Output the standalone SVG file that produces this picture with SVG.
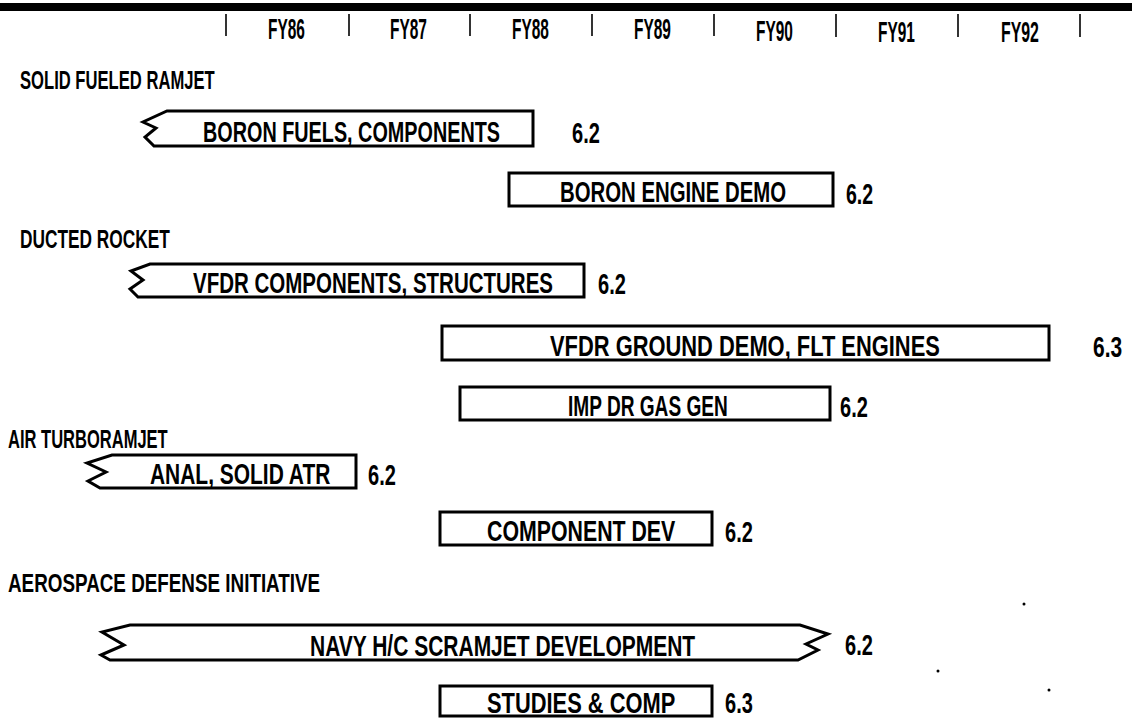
<svg xmlns="http://www.w3.org/2000/svg" width="1132" height="718" viewBox="0 0 1132 718">
<style>
.t{font-family:"Liberation Sans",Arial,sans-serif;font-weight:bold;fill:#000}
.yr{font-size:30px}
.hd{font-size:25px}
.lb{font-size:30px}
.bar{fill:#fff;stroke:#000;stroke-width:3;stroke-linejoin:miter}
.tk{stroke:#000;stroke-width:1.6}
</style>
<rect width="1132" height="718" fill="#fff"/>
<g id="header">
<rect x="0" y="3" width="1132" height="8" fill="#000"/>
<g class="tk">
<line x1="226" y1="14" x2="226" y2="36"/><line x1="349" y1="14" x2="349" y2="36"/><line x1="470" y1="14" x2="470" y2="36"/><line x1="592" y1="14" x2="592" y2="36"/><line x1="714" y1="14" x2="714" y2="36"/><line x1="836" y1="14" x2="836" y2="37"/><line x1="958" y1="14" x2="958" y2="37"/><line x1="1080" y1="14" x2="1080" y2="37"/>
</g>
<text class="t yr" transform="translate(268,39) scale(0.52,1)" textLength="71" lengthAdjust="spacingAndGlyphs">FY86</text>
<text class="t yr" transform="translate(390,39) scale(0.52,1)" textLength="71" lengthAdjust="spacingAndGlyphs">FY87</text>
<text class="t yr" transform="translate(512,39) scale(0.52,1)" textLength="71" lengthAdjust="spacingAndGlyphs">FY88</text>
<text class="t yr" transform="translate(634,39) scale(0.52,1)" textLength="71" lengthAdjust="spacingAndGlyphs">FY89</text>
<text class="t yr" transform="translate(756,41) scale(0.52,1)" textLength="71" lengthAdjust="spacingAndGlyphs">FY90</text>
<text class="t yr" transform="translate(878,42) scale(0.52,1)" textLength="71" lengthAdjust="spacingAndGlyphs">FY91</text>
<text class="t yr" transform="translate(1001,42) scale(0.52,1)" textLength="73" lengthAdjust="spacingAndGlyphs">FY92</text>
</g>
<g id="sec-sfrj"><text class="t hd" transform="translate(20,89) scale(0.66,1)" textLength="295" lengthAdjust="spacingAndGlyphs">SOLID FUELED RAMJET</text></g>
<g id="sec-dr"><text class="t hd" transform="translate(20,248) scale(0.66,1)" textLength="227" lengthAdjust="spacingAndGlyphs">DUCTED ROCKET</text></g>
<g id="sec-atr"><text class="t hd" transform="translate(8,448) scale(0.66,1)" textLength="242" lengthAdjust="spacingAndGlyphs">AIR TURBORAMJET</text></g>
<g id="sec-adi"><text class="t hd" transform="translate(8,592) scale(0.66,1)" textLength="473" lengthAdjust="spacingAndGlyphs">AEROSPACE DEFENSE INITIATIVE</text></g>

<g id="bar-boron-fuels">
<path class="bar" d="M167,111 L533,111 L533,146 L154,146 L145,137 L156,128 L143,122 Z"/>
<text class="t lb" transform="translate(203,142) scale(0.663,1)" textLength="448" lengthAdjust="spacingAndGlyphs">BORON FUELS, COMPONENTS</text>
<text class="t lb" transform="translate(572,143) scale(0.663,1)" textLength="42" lengthAdjust="spacingAndGlyphs">6.2</text>
</g>
<g id="bar-boron-engine">
<rect class="bar" x="509" y="173" width="324" height="33"/>
<text class="t lb" transform="translate(560,202) scale(0.663,1)" textLength="341" lengthAdjust="spacingAndGlyphs">BORON ENGINE DEMO</text>
<text class="t lb" transform="translate(846,204) scale(0.663,1)" textLength="41" lengthAdjust="spacingAndGlyphs">6.2</text>
</g>
<g id="bar-vfdr-comp">
<path class="bar" d="M150,264 L584,264 L584,297 L138,297 L130,289 L143,280 L131,271 Z"/>
<text class="t lb" transform="translate(193,293) scale(0.663,1)" textLength="543" lengthAdjust="spacingAndGlyphs">VFDR COMPONENTS, STRUCTURES</text>
<text class="t lb" transform="translate(598,294) scale(0.663,1)" textLength="42" lengthAdjust="spacingAndGlyphs">6.2</text>
</g>
<g id="bar-vfdr-ground">
<rect class="bar" x="442" y="326" width="607" height="34"/>
<text class="t lb" transform="translate(550,356) scale(0.663,1)" textLength="588" lengthAdjust="spacingAndGlyphs">VFDR GROUND DEMO, FLT ENGINES</text>
<text class="t lb" transform="translate(1093,357) scale(0.663,1)" textLength="44" lengthAdjust="spacingAndGlyphs">6.3</text>
</g>
<g id="bar-imp-dr">
<rect class="bar" x="460" y="387" width="370" height="33"/>
<text class="t lb" transform="translate(568,416) scale(0.663,1)" textLength="241" lengthAdjust="spacingAndGlyphs">IMP DR GAS GEN</text>
<text class="t lb" transform="translate(840,417) scale(0.663,1)" textLength="42" lengthAdjust="spacingAndGlyphs">6.2</text>
</g>
<g id="bar-anal-atr">
<path class="bar" d="M112,455 L356,455 L356,488 L100,488 L88,481 L106,472 L87,463 Z"/>
<text class="t lb" transform="translate(150,484) scale(0.663,1)" textLength="272" lengthAdjust="spacingAndGlyphs">ANAL, SOLID ATR</text>
<text class="t lb" transform="translate(368,485) scale(0.663,1)" textLength="42" lengthAdjust="spacingAndGlyphs">6.2</text>
</g>
<g id="bar-component-dev">
<rect class="bar" x="440" y="512" width="272" height="33"/>
<text class="t lb" transform="translate(487,541) scale(0.663,1)" textLength="284" lengthAdjust="spacingAndGlyphs">COMPONENT DEV</text>
<text class="t lb" transform="translate(725,542) scale(0.663,1)" textLength="42" lengthAdjust="spacingAndGlyphs">6.2</text>
</g>
<g id="bar-navy-scramjet">
<path class="bar" d="M130,625 L800,625 L828,634 L806,644 L818,650 L798,660 L110,660 L101,655 L124,645 L102,632 Z"/>
<text class="t lb" transform="translate(310,656) scale(0.663,1)" textLength="581" lengthAdjust="spacingAndGlyphs">NAVY H/C SCRAMJET DEVELOPMENT</text>
<text class="t lb" transform="translate(845,655) scale(0.663,1)" textLength="42" lengthAdjust="spacingAndGlyphs">6.2</text>
</g>
<g id="bar-studies">
<rect class="bar" x="440" y="686" width="272" height="30"/>
<text class="t lb" transform="translate(487,713) scale(0.663,1)" textLength="284" lengthAdjust="spacingAndGlyphs">STUDIES &amp; COMP</text>
<text class="t lb" transform="translate(725,713) scale(0.663,1)" textLength="42" lengthAdjust="spacingAndGlyphs">6.3</text>
</g>
<g id="specks" fill="#000">
<circle cx="1024" cy="604" r="1.5"/><circle cx="938" cy="671" r="1.5"/><circle cx="1049" cy="690" r="1.5"/>
</g>
</svg>
